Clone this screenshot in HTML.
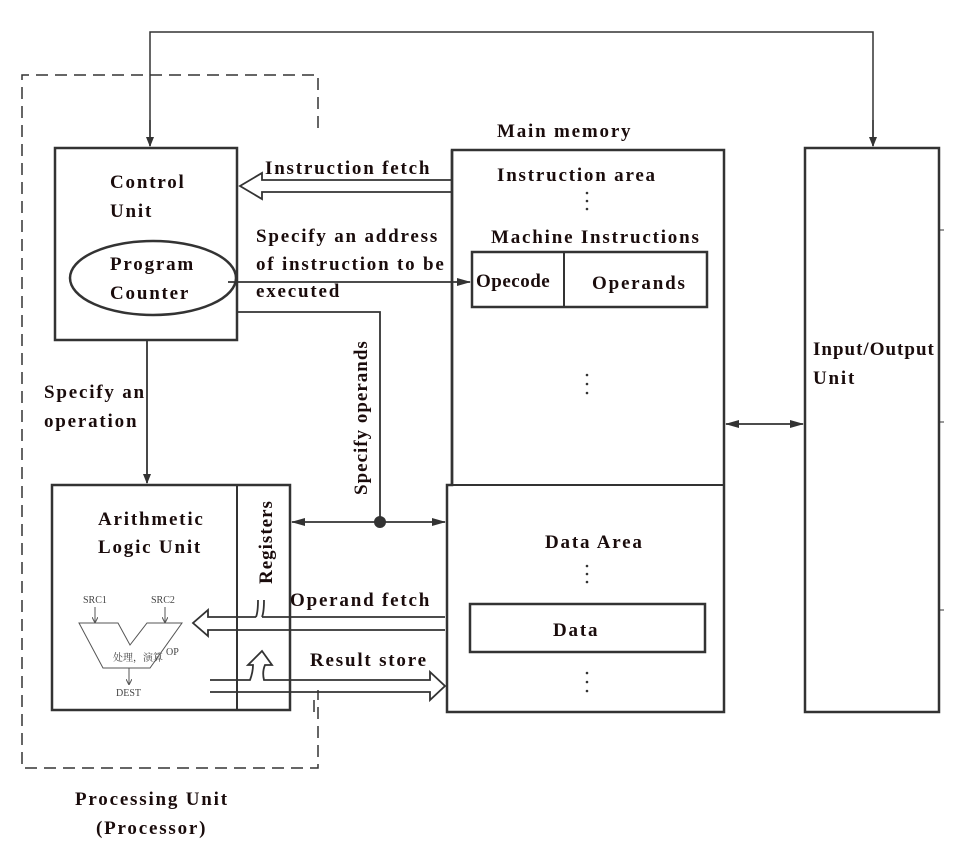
<!DOCTYPE html>
<html><head><meta charset="utf-8"><style>
html,body{margin:0;padding:0;background:#fff;}
svg{display:block;}
text{font-family:"Liberation Serif","Noto Serif CJK SC",serif;font-weight:bold;fill:#1a0c0c;font-size:19px;letter-spacing:1.8px;}
.s{font-weight:normal;font-size:10px;fill:#444;letter-spacing:0;}
</style></head><body>
<svg width="956" height="848" viewBox="0 0 956 848" xmlns="http://www.w3.org/2000/svg">
<defs>
<marker id="a" markerWidth="10" markerHeight="10" refX="9" refY="5" orient="auto" markerUnits="userSpaceOnUse"><path d="M0,1 L10,5 L0,9 Z" fill="#333"/></marker>
<marker id="b" markerWidth="14" markerHeight="10" refX="13" refY="5" orient="auto" markerUnits="userSpaceOnUse"><path d="M0,1 L14,5 L0,9 Z" fill="#333"/></marker>
<marker id="sm" markerWidth="6" markerHeight="6" refX="5" refY="3" orient="auto" markerUnits="userSpaceOnUse"><path d="M0,0 L6,3 L0,6" fill="none" stroke="#555"/></marker>
</defs>
<g stroke="#333" fill="none" stroke-width="2">
<path d="M318,128 L318,75 L22,75 L22,768 L318,768 L318,690" stroke-dasharray="12,7" stroke-width="1.5"/>
<path d="M150,146 L150,32 L873,32 L873,146" stroke-width="1.5"/>
<line x1="150" y1="120" x2="150" y2="146" marker-end="url(#a)" stroke-width="1.5"/>
<line x1="873" y1="120" x2="873" y2="146" marker-end="url(#a)" stroke-width="1.5"/>
<rect x="55" y="148" width="182" height="192" stroke-width="2.5"/>
<ellipse cx="153" cy="278" rx="83" ry="37" stroke-width="2.5"/>
<path d="M452,150 L724,150 L724,712 L447,712 L447,485 L452,485 Z" stroke-width="2.5"/>
<line x1="452" y1="150" x2="452" y2="485" stroke-width="2.5"/>
<line x1="447" y1="485" x2="724" y2="485"/>
<rect x="472" y="252" width="235" height="55" stroke-width="2.5"/>
<line x1="564" y1="252" x2="564" y2="307"/>
<rect x="470" y="604" width="235" height="48" stroke-width="2.5"/>
<rect x="805" y="148" width="134" height="564" stroke-width="2.5"/>
<line x1="939" y1="230" x2="944" y2="230" stroke-width="1"/>
<line x1="939" y1="422" x2="944" y2="422" stroke-width="1"/>
<line x1="939" y1="610" x2="944" y2="610" stroke-width="1"/>
<rect x="52" y="485" width="238" height="225" stroke-width="2.5"/>
<line x1="237" y1="485" x2="237" y2="710"/>
<path d="M452,180 L262,180 L262,173 L240,186 L262,199 L262,192 L452,192" stroke-width="1.8"/>
<line x1="228" y1="282" x2="470" y2="282" marker-end="url(#b)" stroke-width="1.8"/>
<path d="M237,312 L380,312 L380,522" stroke-width="1.8"/>
<line x1="380" y1="522" x2="445" y2="522" marker-end="url(#b)" stroke-width="1.8"/>
<line x1="380" y1="522" x2="292" y2="522" marker-end="url(#b)" stroke-width="1.8"/>
<circle cx="380" cy="522" r="5" fill="#333"/>
<line x1="147" y1="340" x2="147" y2="483" marker-end="url(#a)" stroke-width="1.8"/>
<line x1="764" y1="424" x2="726" y2="424" marker-end="url(#b)" stroke-width="1.8"/>
<line x1="764" y1="424" x2="803" y2="424" marker-end="url(#b)" stroke-width="1.8"/>
<path d="M445,617 L262,617 M256,617 L208,617 L208,610 L193,623 L208,636 L208,630 L445,630" stroke-width="1.8"/>
<path d="M256,617 Q258,612 258,600 M262,617 Q264,612 264,600" stroke-width="1.8"/>
<path d="M210,680 L250,680 Q253,672 253,665 L248,665 L262,651 L272,665 L265,665 Q262,672 264,680 L430,680 L430,672 L445,686 L430,700 L430,692 L210,692" stroke-width="1.8"/>
<line x1="314" y1="700" x2="314" y2="712" stroke-width="1.5"/>
<path d="M79,623 L118,623 L130,645 L147,623 L182,623 L150,668 L103,668 Z" stroke="#555" stroke-width="1" fill="none"/>
<line x1="95" y1="607" x2="95" y2="622" stroke="#555" stroke-width="1" marker-end="url(#sm)"/>
<line x1="165" y1="607" x2="165" y2="622" stroke="#555" stroke-width="1" marker-end="url(#sm)"/>
<line x1="129" y1="668" x2="129" y2="684" stroke="#555" stroke-width="1" marker-end="url(#sm)"/>
</g>
<g fill="#333">
<circle cx="587" cy="193" r="1.3"/><circle cx="587" cy="201" r="1.3"/><circle cx="587" cy="209" r="1.3"/>
<circle cx="587" cy="375" r="1.3"/><circle cx="587" cy="384" r="1.3"/><circle cx="587" cy="393" r="1.3"/>
<circle cx="587" cy="566" r="1.3"/><circle cx="587" cy="574" r="1.3"/><circle cx="587" cy="582" r="1.3"/>
<circle cx="587" cy="673" r="1.3"/><circle cx="587" cy="682" r="1.3"/><circle cx="587" cy="691" r="1.3"/>
</g>
<text x="110" y="188">Control</text>
<text x="110" y="217">Unit</text>
<text x="110" y="270">Program</text>
<text x="110" y="299">Counter</text>
<text x="265" y="174">Instruction fetch</text>
<text x="256" y="242">Specify an address</text>
<text x="256" y="270">of instruction to be</text>
<text x="256" y="297">executed</text>
<text x="497" y="137">Main memory</text>
<text x="497" y="181">Instruction area</text>
<text x="491" y="243">Machine Instructions</text>
<text x="476" y="287" style="letter-spacing:0.5px">Opecode</text>
<text x="592" y="289">Operands</text>
<text x="813" y="355" style="letter-spacing:1px">Input/Output</text>
<text x="813" y="384">Unit</text>
<text x="44" y="398">Specify an</text>
<text x="44" y="427">operation</text>
<text transform="translate(367,495) rotate(-90)" style="letter-spacing:1px">Specify operands</text>
<text x="98" y="525">Arithmetic</text>
<text x="98" y="553">Logic Unit</text>
<text transform="translate(272,584) rotate(-90)" style="letter-spacing:1px">Registers</text>
<text x="545" y="548">Data Area</text>
<text x="553" y="636">Data</text>
<text x="290" y="606">Operand fetch</text>
<text x="310" y="666">Result store</text>
<text x="75" y="805">Processing Unit</text>
<text x="96" y="834">(Processor)</text>
<text class="s" x="83" y="603">SRC1</text>
<text class="s" x="151" y="603">SRC2</text>
<text class="s" x="113" y="661" font-size="8">处理，演算</text>
<text class="s" x="166" y="655">OP</text>
<text class="s" x="116" y="696">DEST</text>
</svg>
</body></html>
